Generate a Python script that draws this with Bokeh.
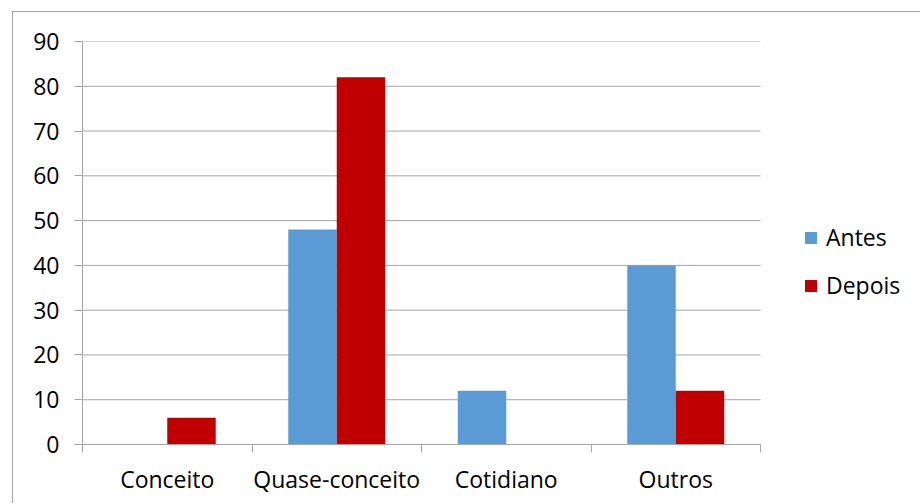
from bokeh.plotting import figure
from bokeh.models import Range1d, LinearAxis, FixedTicker, Legend, LegendItem, ColumnDataSource
from bokeh.embed import file_html
from bokeh.resources import INLINE

categories = ["Conceito", "Quase-conceito", "Cotidiano", "Outros"]
antes = [0, 48, 12, 40]
depois = [6, 82, 0, 12]
y_ticks = [0, 10, 20, 30, 40, 50, 60, 70, 80, 90]

FONT = "Open Sans"
FS = "23px"
GRID = "#a6a6a6"
BLUE = "#5b9bd5"
RED = "#c00000"

n = len(categories)
# the plotting frame runs to the right edge; categories fill x = 0..n and the
# remaining room on the right (up to x_max) holds the legend
x_max = n * 839 / 678

# each category occupies one unit slot; its bars sit around the slot centre
bw = 0.286
centres = [i + 0.5 for i in range(n)]
src = ColumnDataSource(dict(
    cat=categories, antes=antes, depois=depois,
    x_antes=[c - bw / 2 for c in centres],
    x_depois=[c + bw / 2 for c in centres],
))
grid_src = ColumnDataSource(dict(y=y_ticks, x0=[0] * len(y_ticks), x1=[n] * len(y_ticks)))

p = figure(
    x_range=Range1d(0, x_max), y_range=Range1d(0, 90),
    width=908, height=492, output_backend="svg", toolbar_location=None,
    x_axis_location=None, y_axis_location=None,
    min_border_left=69, min_border_top=29, min_border_right=0, min_border_bottom=60,
    background_fill_color="white", border_fill_color="white",
    outline_line_color=None,
)
p.margin = (11, 0, 0, 12)
p.styles = {"border-left": "1px solid #a6a6a6", "border-top": "1px solid #a6a6a6"}
p.xgrid.grid_line_color = None
p.ygrid.grid_line_color = None

# horizontal gridlines across the category area only
p.segment(x0="x0", x1="x1", y0="y", y1="y", source=grid_src,
          line_color=GRID, line_width=1)

r_antes = p.vbar(x="x_antes", top="antes", width=bw, source=src,
                 fill_color=BLUE, line_color=None)
r_depois = p.vbar(x="x_depois", top="depois", width=bw, source=src,
                  fill_color=RED, line_color=None)

# y axis
yax = LinearAxis(ticker=FixedTicker(ticks=y_ticks, minor_ticks=[]))
yax.axis_line_color = GRID
yax.major_tick_line_color = GRID
yax.major_tick_out = 8
yax.major_tick_in = 0
yax.major_label_text_font = FONT
yax.major_label_text_font_size = FS
yax.major_label_text_color = "black"
yax.major_label_standoff = 15
p.add_layout(yax, "left")

# x axis: tick marks between categories, labels centred on each category
xax = LinearAxis(ticker=FixedTicker(ticks=centres, minor_ticks=list(range(n + 1))),
                 bounds=(0, n))
xax.major_label_overrides = {c: name for c, name in zip(centres, categories)}
xax.axis_line_color = GRID
xax.major_tick_line_color = None
xax.minor_tick_line_color = GRID
xax.minor_tick_out = 8
xax.minor_tick_in = 0
xax.major_label_text_font = FONT
xax.major_label_text_font_size = FS
xax.major_label_text_color = "black"
xax.major_label_standoff = 10
p.add_layout(xax, "below")

# legend to the right of the bars, offset in pixels from the frame's lower-left
legend = Legend(items=[LegendItem(label="Antes", renderers=[r_antes]),
                       LegendItem(label="Depois", renderers=[r_depois])],
                location=(721, 143), orientation="vertical")
legend.label_text_font = FONT
legend.label_text_font_size = FS
legend.label_text_color = "black"
legend.glyph_width = 15
legend.glyph_height = 15
legend.label_standoff = 8
legend.spacing = 16
legend.padding = 0
legend.margin = 0
legend.border_line_color = None
legend.background_fill_alpha = 0
p.add_layout(legend, "center")

open("out.html", "w").write(file_html(p, INLINE))
